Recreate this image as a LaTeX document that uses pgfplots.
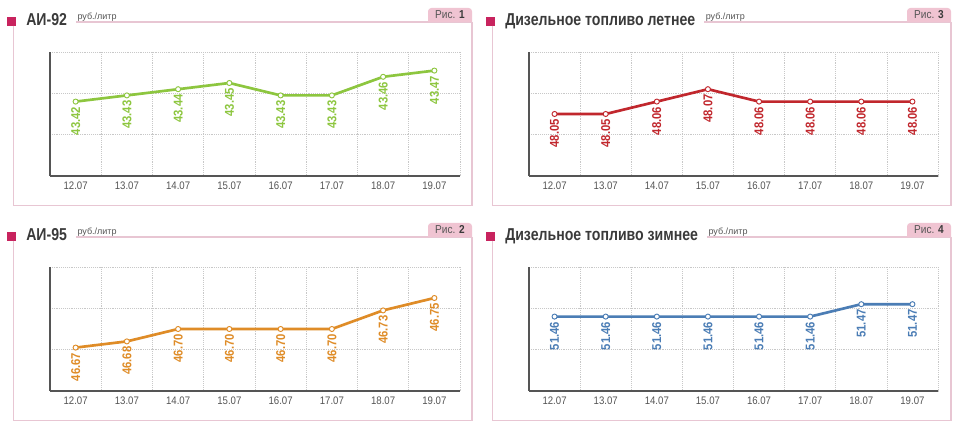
\documentclass[border=0pt]{standalone}
\usepackage{fontspec}
\setmainfont{Liberation Sans}
\newfontfamily\cond{Liberation Sans}[FakeStretch=0.88]
\newfontfamily\condt{Liberation Sans}[FakeStretch=0.82]
\usepackage{pgfplots}
\pgfplotsset{compat=1.18}

\definecolor{cgreen}{HTML}{8DC63F}
\definecolor{cred}{HTML}{C1272D}
\definecolor{corange}{HTML}{DF8C27}
\definecolor{cblue}{HTML}{4B7DB5}
\definecolor{framepink}{HTML}{E8C6D3}
\definecolor{tabpink}{HTML}{F0C4D2}
\definecolor{sqpink}{HTML}{C8235E}
\definecolor{titlegray}{HTML}{3A3A3A}
\definecolor{tickgray}{HTML}{555555}
\definecolor{gridgray}{HTML}{C8C8C8}
\definecolor{axisgray}{HTML}{555555}

\pgfplotsset{
  panel/.style={
    scale only axis, height=93pt, xmin=0, xmax=8,
    axis lines*=left,
    axis line style={-, draw=axisgray, line width=1.1pt},
    xtick={0.5,1.5,2.5,3.5,4.5,5.5,6.5,7.5},
    xticklabels={12.07,13.07,14.07,15.07,16.07,17.07,18.07,19.07},
    minor xtick={0,1,2,3,4,5,6,7,8},
    xmajorgrids=false, xminorgrids=true, ymajorgrids=true,
    yticklabels={},
    major tick length=0pt, minor tick length=0pt,
    major grid style={densely dotted, draw=gridgray, line width=0.5pt},
    minor grid style={densely dotted, draw=gridgray, line width=0.5pt},
    xticklabel style={font=\cond\fontsize{8.2pt}{9pt}\selectfont, text=tickgray, yshift=-0.5pt},
    point meta=explicit symbolic, nodes near coords,
    every node near coord/.append style={rotate=90, anchor=east, inner sep=3.6pt,
      font=\cond\bfseries\fontsize{9.6pt}{10pt}\selectfont},
    clip=false,
  },
  series/.style={color=#1, line width=2pt, mark=*, mark size=1.9pt,
    mark options={fill=white, draw=#1, line width=0.7pt, solid}},
}

% frame, title, unit and figure tab of one panel
\newcommand\deco[4]{%
  \begin{scope}[shift={(#1,#2)}]
    \fill[sqpink] (7.3,408.3) rectangle (16,417.3);
    \draw[framepink, line width=0.8pt] (13.3,408.3) -- (13.3,228.7) -- (472,228.7) -- (472,412);
    \node[anchor=base west, inner sep=0, text=titlegray,
      font=\condt\bfseries\fontsize{12.9pt}{14pt}\selectfont] (t) at (26,408) {#3};
    \node[anchor=base west, inner sep=0, text=tickgray,
      font=\fontsize{6.75pt}{8pt}\selectfont] (u) at ([xshift=7.5pt,yshift=4.9pt]t.base east) {руб./литр};
    \coordinate (r) at (0,412);
    \draw[framepink, line width=0.8pt] ([xshift=-1pt]u.west |- r) -- (472,412);
    \fill[tabpink] (428,412) [rounded corners=2.5pt] -- (428,426) -- (472,426) [sharp corners] -- (472,412) -- cycle;
    \node[inner sep=0, text=tickgray, font=\cond\fontsize{8.6pt}{10pt}\selectfont] at (450,419)
      {Рис. {\bfseries\color{titlegray}#4}};
  \end{scope}}

\begin{document}
\begin{tikzpicture}[x=0.75pt, y=0.75pt]
  \fill[white] (0,0) rectangle (960,434);
  \path[use as bounding box] (0,0) rectangle (960,434);

  \deco{0}{0}{АИ-92}{1}
  \deco{479}{0}{Дизельное топливо летнее}{3}
  \deco{0}{-215}{АИ-95}{2}
  \deco{479}{-215}{Дизельное топливо зимнее}{4}

  % АИ-92
  \begin{axis}[panel, at={(37.5pt,193.5pt)}, anchor=south west, width=307.5pt,
      ymin=43.30, ymax=43.50, ytick={43.30,43.3667,43.4333,43.50},
      every node near coord/.append style={text=cgreen}]
    \addplot[series=cgreen] coordinates {
      (0.5,43.42) [43.42] (1.5,43.43) [43.43] (2.5,43.44) [43.44] (3.5,43.45) [43.45]
      (4.5,43.43) [43.43] (5.5,43.43) [43.43] (6.5,43.46) [43.46] (7.5,43.47) [43.47]};
  \end{axis}

  % Дизельное топливо летнее
  \begin{axis}[panel, at={(396.75pt,193.5pt)}, anchor=south west, width=306.75pt,
      ymin=48.00, ymax=48.10, ytick={48.00,48.0333,48.0667,48.10},
      every node near coord/.append style={text=cred}]
    \addplot[series=cred] coordinates {
      (0.5,48.05) [48.05] (1.5,48.05) [48.05] (2.5,48.06) [48.06] (3.5,48.07) [48.07]
      (4.5,48.06) [48.06] (5.5,48.06) [48.06] (6.5,48.06) [48.06] (7.5,48.06) [48.06]};
  \end{axis}

  % АИ-95
  \begin{axis}[panel, at={(37.5pt,32.25pt)}, anchor=south west, width=307.5pt,
      ymin=46.60, ymax=46.80, ytick={46.60,46.6667,46.7333,46.80},
      every node near coord/.append style={text=corange}]
    \addplot[series=corange] coordinates {
      (0.5,46.67) [46.67] (1.5,46.68) [46.68] (2.5,46.70) [46.70] (3.5,46.70) [46.70]
      (4.5,46.70) [46.70] (5.5,46.70) [46.70] (6.5,46.73) [46.73] (7.5,46.75) [46.75]};
  \end{axis}

  % Дизельное топливо зимнее
  \begin{axis}[panel, at={(396.75pt,32.25pt)}, anchor=south west, width=306.75pt,
      ymin=51.40, ymax=51.50, ytick={51.40,51.4333,51.4667,51.50},
      every node near coord/.append style={text=cblue}]
    \addplot[series=cblue] coordinates {
      (0.5,51.46) [51.46] (1.5,51.46) [51.46] (2.5,51.46) [51.46] (3.5,51.46) [51.46]
      (4.5,51.46) [51.46] (5.5,51.46) [51.46] (6.5,51.47) [51.47] (7.5,51.47) [51.47]};
  \end{axis}
\end{tikzpicture}
\end{document}
